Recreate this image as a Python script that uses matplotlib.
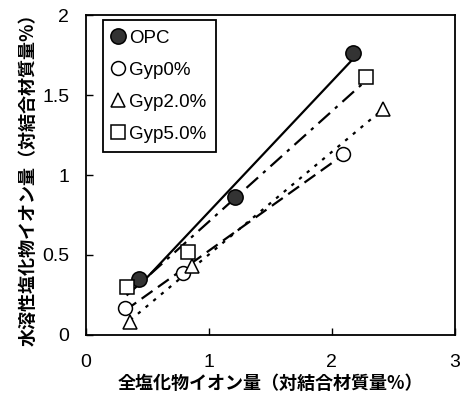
import numpy as np
import matplotlib.pyplot as plt

plt.rcParams['font.family'] = ['Liberation Sans', 'Noto Sans CJK JP', 'DejaVu Sans']

# total chloride vs. water-soluble chloride (% of binder mass)
opc_x = [0.43, 1.21, 2.17]
opc_y = [0.35, 0.86, 1.76]
gyp0_x = [0.32, 0.79, 2.09]
gyp0_y = [0.17, 0.39, 1.13]
gyp2_x = [0.36, 0.86, 2.42]
gyp2_y = [0.08, 0.43, 1.41]
gyp5_x = [0.33, 0.83, 2.28]
gyp5_y = [0.30, 0.52, 1.61]

series = [
    ('OPC', opc_x, opc_y, 'o', '#333333', '-'),
    ('Gyp0%', gyp0_x, gyp0_y, 'o', 'white', (0, (6, 3))),
    ('Gyp2.0%', gyp2_x, gyp2_y, '^', 'white', (0, (1.5, 3))),
    ('Gyp5.0%', gyp5_x, gyp5_y, 's', 'white', (0, (7, 3, 1.5, 3))),
]

fig = plt.figure(figsize=(4.65, 4.07), dpi=100)
ax = fig.add_axes([0.185, 0.177, 0.793, 0.786])

for name, xs, ys, mk, fc, ls in series:
    k, b = np.polyfit(xs, ys, 1)
    xr = np.array([min(xs), max(xs)])
    ax.plot(xr, k * xr + b, color='black', linestyle=ls, linewidth=1.6, zorder=2)
    ms = 11 if mk == 'o' and fc != 'white' else 10
    ax.plot(xs, ys, linestyle='none', marker=mk, markersize=ms,
            markerfacecolor=fc, markeredgecolor='black', markeredgewidth=1.1,
            label=name, zorder=3)

ax.set_xlim(0, 3)
ax.set_ylim(0, 2)
ax.set_xticks([0, 1, 2, 3])
ax.set_xticklabels(['0', '1', '2', '3'])
ax.set_yticks([0, 0.5, 1, 1.5, 2])
ax.set_yticklabels(['0', '0.5', '1', '1.5', '2'])
ax.tick_params(direction='in', length=5, width=1, labelsize=14, pad=12)
ax.tick_params(axis='x', pad=14)
for s in ax.spines.values():
    s.set_linewidth(1.3)

cjk = ['Noto Sans CJK JP', 'DejaVu Sans']
ax.set_xlabel('全塩化物イオン量（対結合材質量%）', fontsize=13, family=cjk,
              fontweight='bold', labelpad=2)
ax.set_ylabel('水溶性塩化物イオン量（対結合材質量%）', fontsize=13, family=cjk,
              fontweight='bold', labelpad=3)

leg = ax.legend(loc='upper left', fontsize=13.5, handlelength=0.6, handletextpad=0.3,
                borderpad=0.5, labelspacing=0.8, fancybox=False, framealpha=1,
                edgecolor='black', bbox_to_anchor=(0.046, 0.984), borderaxespad=0)
leg.get_frame().set_linewidth(1.3)

fig.savefig('out.png', dpi=100)
